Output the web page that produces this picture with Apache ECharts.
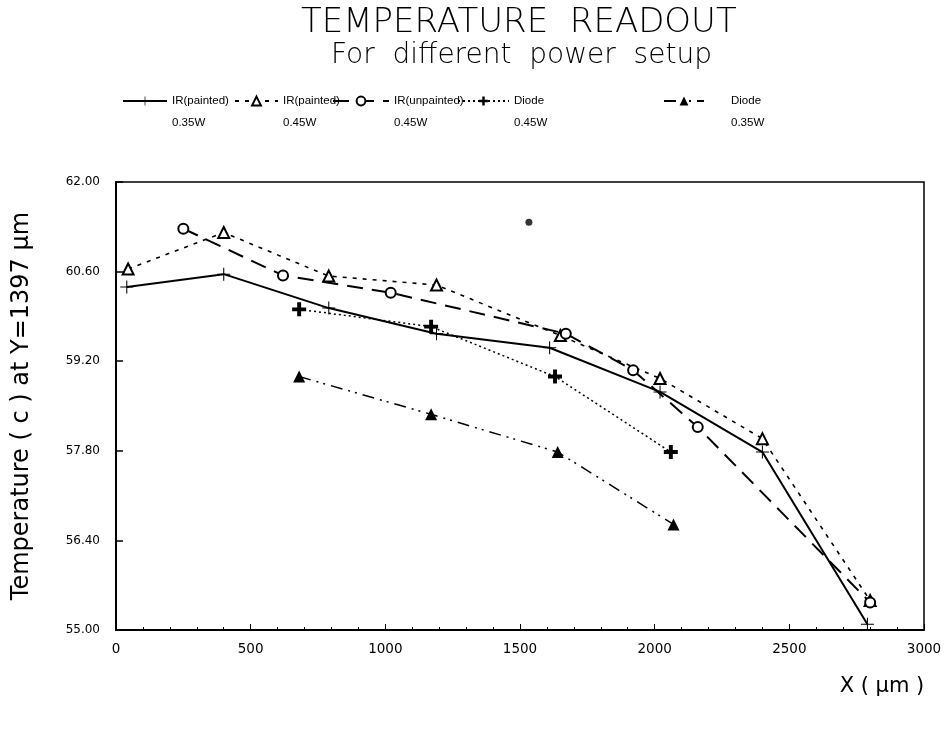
<!DOCTYPE html>
<html>
<head>
<meta charset="utf-8">
<script src="https://cdn.jsdelivr.net/npm/echarts@6/dist/echarts.min.js"></script>
<style>
  html, body { margin: 0; padding: 0; background: #fff; }
  #chart { width: 949px; height: 733px; }
</style>
</head>
<body>
<div id="chart"></div>
<script>
// Series names (legend shows the power on a second line)
const seriesNames = ['IR(painted) 0.35W', 'IR(painted) 0.45W', 'IR(unpainted) 0.45W', 'Diode 0.45W', 'Diode 0.35W'];

// X position (um) and temperature (C) for each setup
const irPainted035X = [40, 400, 790, 1190, 1610, 2020, 2400, 2790];
const irPainted035Y = [60.36, 60.56, 60.03, 59.63, 59.41, 58.72, 57.78, 55.09];

const irPainted045X = [45, 400, 790, 1190, 1650, 2020, 2400, 2800];
const irPainted045Y = [60.64, 61.21, 60.53, 60.39, 59.60, 58.93, 57.99, 55.46];

const irUnpainted045X = [250, 620, 1020, 1670, 1920, 2160, 2800];
const irUnpainted045Y = [61.27, 60.54, 60.27, 59.63, 59.06, 58.17, 55.43];

const diode045X = [680, 1170, 1630, 2060];
const diode045Y = [60.01, 59.74, 58.96, 57.78];

const diode035X = [680, 1170, 1640, 2070];
const diode035Y = [58.96, 58.37, 57.78, 56.65];

// lone dot in the upper middle of the plot
const strayX = [1533];
const strayY = [61.37];

// Axis ticks
const yTicks = [55.0, 56.4, 57.8, 59.2, 60.6, 62.0];
const xTicks = [0, 500, 1000, 1500, 2000, 2500, 3000];

const pair = (xs, ys) => xs.map((x, i) => [x, ys[i]]);

const thinPlus = 'path://M4.6,0H5.4V4.6H10V5.4H5.4V10H4.6V5.4H0V4.6H4.6Z';
const boldPlus = 'path://M3.6,0H6.4V3.6H10V6.4H6.4V10H3.6V6.4H0V3.6H3.6Z';

const chart = echarts.init(document.getElementById('chart'), null, { renderer: 'canvas' });

// Each legend entry gets its own box so the gaps can differ;
// a leading blank line keeps the icon level with the first text line.
function legendAt(name, left, itemWidth, padLeft) {
  return {
    data: [name],
    left: left,
    top: 63,
    itemWidth: itemWidth,
    itemHeight: 11,
    formatter: n => '\n' + n.replace(' ', '\n'),
    textStyle: {
      color: '#000',
      fontFamily: 'Liberation Sans',
      fontSize: 11.5,
      lineHeight: 22,
      padding: [0, 0, 0, padLeft || 0]
    },
    inactiveColor: '#000'
  };
}

const option = {
  backgroundColor: '#fff',
  animation: false,
  title: [
    {
      text: 'TEMPERATURE  READOUT',
      left: 296,
      top: 1,
      textStyle: { fontFamily: 'DejaVu Sans', fontWeight: 200, fontSize: 34, color: '#000' }
    },
    {
      text: 'For  different  power  setup',
      left: 326,
      top: 37,
      textStyle: { fontFamily: 'DejaVu Sans', fontWeight: 200, fontSize: 28, color: '#000' }
    }
  ],
  legend: [
    legendAt(seriesNames[0], 117, 44),
    legendAt(seriesNames[1], 229, 43),
    legendAt(seriesNames[2], 327, 56),
    legendAt(seriesNames[3], 452, 51),
    legendAt(seriesNames[4], 658, 40, 22)
  ],
  grid: {
    left: 116,
    right: 25,
    top: 182,
    bottom: 103,
    show: true,
    borderColor: '#000',
    borderWidth: 1.5,
    backgroundColor: 'transparent'
  },
  xAxis: {
    type: 'value',
    min: xTicks[0],
    max: xTicks[xTicks.length - 1],
    interval: 500,
    name: 'X ( \u03bcm )',
    nameLocation: 'end',
    nameGap: -42,
    nameTextStyle: {
      fontFamily: 'DejaVu Sans',
      fontSize: 21,
      color: '#000',
      align: 'center',
      verticalAlign: 'top',
      padding: [46, 0, 0, 0]
    },
    axisLine: { show: true, lineStyle: { color: '#000', width: 2 } },
    axisTick: { show: true, inside: true, length: 6, lineStyle: { color: '#000', width: 1 } },
    minorTick: { show: true, splitNumber: 5, length: 3, lineStyle: { color: '#000', width: 1 } },
    axisLabel: {
      color: '#000',
      fontFamily: 'DejaVu Sans',
      fontSize: 13.5,
      margin: 12,
      customValues: xTicks,
      formatter: v => String(v)
    },
    splitLine: { show: false }
  },
  yAxis: {
    type: 'value',
    min: yTicks[0],
    max: yTicks[yTicks.length - 1],
    name: 'Temperature ( c ) at Y=1397 \u03bcm',
    nameLocation: 'middle',
    nameRotate: 90,
    nameGap: 82,
    nameTextStyle: { fontFamily: 'DejaVu Sans', fontSize: 24, color: '#000' },
    axisLine: { show: true, lineStyle: { color: '#000', width: 2 } },
    axisTick: { show: true, inside: true, length: 7, customValues: yTicks, lineStyle: { color: '#000', width: 1.5 } },
    axisLabel: {
      color: '#000',
      fontFamily: 'DejaVu Sans',
      fontSize: 12,
      margin: 16,
      customValues: yTicks,
      formatter: v => v.toFixed(2)
    },
    splitLine: { show: false }
  },
  series: [
    {
      name: seriesNames[0],
      type: 'line',
      data: pair(irPainted035X, irPainted035Y),
      symbol: thinPlus,
      symbolSize: 13,
      itemStyle: { color: '#000' },
      lineStyle: { color: '#000', width: 2, type: 'solid' }
    },
    {
      name: seriesNames[1],
      type: 'line',
      data: pair(irPainted045X, irPainted045Y),
      symbol: 'emptyTriangle',
      symbolSize: 11,
      itemStyle: { color: '#000', borderWidth: 1.5 },
      lineStyle: { color: '#000', width: 1.6, type: [4, 6] }
    },
    {
      name: seriesNames[2],
      type: 'line',
      data: pair(irUnpainted045X, irUnpainted045Y),
      symbol: 'emptyCircle',
      symbolSize: 10,
      itemStyle: { color: '#000', borderWidth: 1.5 },
      lineStyle: { color: '#000', width: 2, type: [16, 9] }
    },
    {
      name: seriesNames[3],
      type: 'line',
      data: pair(diode045X, diode045Y),
      symbol: boldPlus,
      symbolSize: 14,
      itemStyle: { color: '#000' },
      lineStyle: { color: '#000', width: 1.5, type: [2, 3] }
    },
    {
      name: seriesNames[4],
      type: 'line',
      data: pair(diode035X, diode035Y),
      symbol: 'triangle',
      symbolSize: 12,
      itemStyle: { color: '#000' },
      lineStyle: { color: '#000', width: 1.5, type: [12, 6, 2, 5, 2, 6] }
    },
    {
      name: 'dot',
      type: 'scatter',
      data: pair(strayX, strayY),
      symbol: 'circle',
      symbolSize: 7,
      itemStyle: { color: '#000' }
    }
  ]
};

chart.setOption(option);
</script>
</body>
</html>
